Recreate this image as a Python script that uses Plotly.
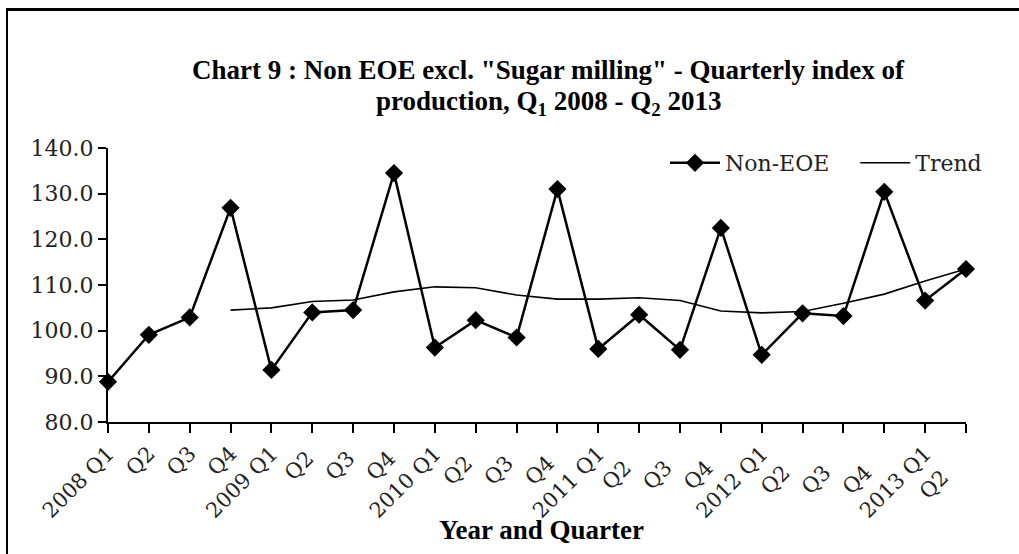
import plotly.graph_objects as go

quarters = ["2008 Q1", "Q2", "Q3", "Q4",
            "2009 Q1", "Q2 ", "Q3 ", "Q4 ",
            "2010 Q1", "Q2  ", "Q3  ", "Q4  ",
            "2011 Q1", "Q2   ", "Q3   ", "Q4   ",
            "2012 Q1", "Q2    ", "Q3    ", "Q4    ",
            "2013 Q1", "Q2     "]
non_eoe = [88.8, 99.1, 102.9, 126.9,
           91.4, 104.0, 104.5, 134.5,
           96.3, 102.3, 98.5, 131.0,
           96.0, 103.5, 95.8, 122.5,
           94.7, 103.8, 103.2, 130.4,
           106.6, 113.5]
trend = [None, None, None, 104.5,
         105.0, 106.4, 106.7, 108.5,
         109.6, 109.4, 107.8, 106.9,
         106.9, 107.2, 106.6, 104.3,
         103.9, 104.2, 106.0, 108.0,
         110.9, 113.5]
y_ticks = [80, 90, 100, 110, 120, 130, 140]
title_lines = ['Chart 9 : Non EOE excl. "Sugar milling" - Quarterly index of',
               'production, Q<sub>1</sub> 2008 - Q<sub>2</sub> 2013']

SERIF = "Liberation Serif, Times New Roman, Times, serif"

fig = go.Figure()
fig.add_trace(go.Scatter(
    x=quarters, y=non_eoe, name="Non-EOE\u00a0\u00a0\u00a0", mode="lines+markers",
    line=dict(color="black", width=2.5),
    marker=dict(symbol="diamond", size=14, color="black"),
    cliponaxis=False,
))
fig.add_trace(go.Scatter(
    x=quarters, y=trend, name="Trend", mode="lines",
    line=dict(color="black", width=1.6),
    cliponaxis=False,
))

L, R, T, B = 108, 53, 148, 132
W, H = 1019, 554
pw, ph = W - L - R, H - T - B

def px_x(p):
    return (p - L) / pw

def px_y(p):
    return (H - B - p) / ph

annotations = [
    dict(text="<b>%s</b>" % t, xref="paper", yref="paper",
         x=px_x(548), y=px_y(yc), xanchor="center", yanchor="middle",
         showarrow=False, font=dict(family=SERIF, size=27, color="black"))
    for t, yc in zip(title_lines, [70, 103])
]
annotations.append(
    dict(text="<b>Year and Quarter</b>", xref="paper", yref="paper",
         x=px_x(541), y=px_y(530), xanchor="center", yanchor="middle",
         showarrow=False, font=dict(family=SERIF, size=27, color="black"))
)

fig.update_layout(
    width=W, height=H,
    margin=dict(l=L, r=R, t=T, b=B, pad=0, autoexpand=False),
    paper_bgcolor="white", plot_bgcolor="white",
    showlegend=True,
    annotations=annotations,
    legend=dict(
        orientation="h", x=px_x(987), xanchor="right", y=px_y(163), yanchor="middle",
        font=dict(family="DejaVu Serif", size=22, color="#222"),
        bgcolor="rgba(0,0,0,0)", itemwidth=50, tracegroupgap=0,
    ),
    xaxis=dict(
        type="category", range=[0, len(quarters) - 1], automargin=False,
        showline=True, linecolor="black", linewidth=2,
        ticks="outside", ticklen=9, tickwidth=2, tickcolor="black",
        tickangle=-45, showgrid=False, zeroline=False,
        tickfont=dict(family="DejaVu Serif", size=21, color="#222"),
    ),
    yaxis=dict(
        range=[80, 140], tickvals=y_ticks, tickformat=".1f", automargin=False,
        showline=True, linecolor="black", linewidth=2,
        ticks="outside", ticklen=8, tickwidth=2, tickcolor="black",
        showgrid=False, zeroline=False,
        tickfont=dict(family="DejaVu Serif", size=22, color="#222"),
    ),
    shapes=[
        dict(type="line", xref="paper", yref="paper",
             x0=px_x(6), x1=px_x(1019), y0=px_y(9.5), y1=px_y(9.5),
             line=dict(color="black", width=3)),
        dict(type="line", xref="paper", yref="paper",
             x0=px_x(7), x1=px_x(7), y0=px_y(8), y1=px_y(554),
             line=dict(color="black", width=2)),
    ],
)

fig.write_html("out.html", config={"displayModeBar": False},
               post_script="document.body.style.margin='0';document.body.style.padding='0';")
